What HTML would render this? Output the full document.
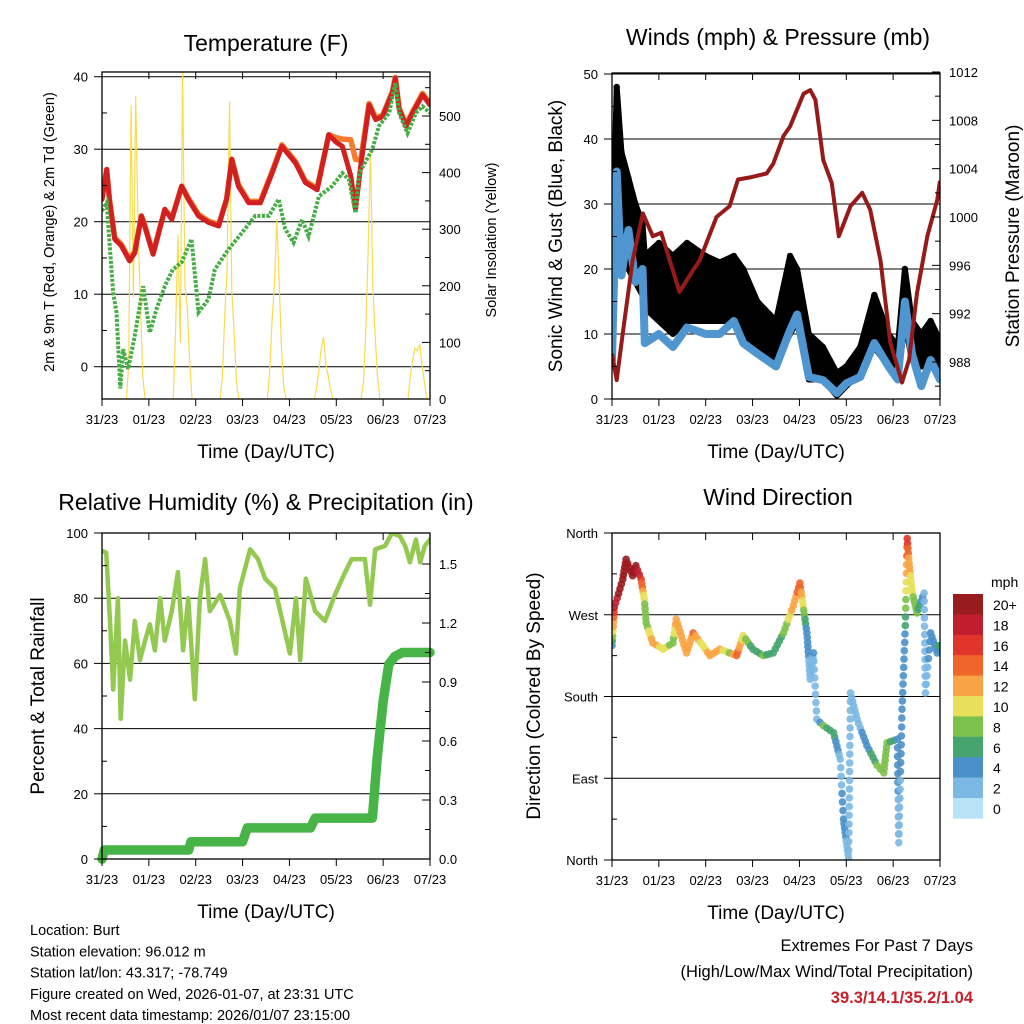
<!DOCTYPE html>
<html><head><meta charset="utf-8"><title>Burt Station Meteogram</title>
<style>
body{margin:0;background:#fff;}
svg{display:block;font-family:"Liberation Sans",Arial,sans-serif;}
</style></head>
<body>
<svg id="chart" width="1024" height="1024" viewBox="0 0 1024 1024" xmlns="http://www.w3.org/2000/svg">
<rect x="0" y="0" width="1024" height="1024" fill="#fff"/>
</svg>
<script>
// ---------- shared time axis ----------
const dayTicks = ["31/23","01/23","02/23","03/23","04/23","05/23","06/23","07/23"];

// ---------- Temperature panel data ----------
const tDays = [0,0.1,0.16,0.27,0.41,0.59,0.7,0.84,0.91,1.09,1.34,1.49,1.7,1.84,2.06,2.27,2.49,2.66,2.77,2.91,3.13,3.38,3.63,3.84,4.13,4.34,4.59,4.84,4.99,5.13,5.31,5.41,5.52,5.7,5.84,5.99,6.2,6.26,6.34,6.49,6.63,6.84,7.0];
const temp2m = [23.1,27.2,23,17.6,16.7,14.6,15.7,20.8,19.4,15.5,21.7,20.3,24.9,23.1,20.8,19.9,19.4,23.1,28.6,24.9,22.6,22.6,26.7,30.4,28.1,25.4,24.4,32.0,31.0,30.4,26.3,21.7,27.7,36.1,34.1,34.5,37.8,39.8,35.5,33.2,35,37.5,36.1];
const temp9m = [23.1,27.2,23,17.8,16.9,14.8,15.9,20.8,19.6,15.6,21.7,20.5,24.9,23.3,21,20.1,19.6,23.1,28.6,25.1,22.8,22.8,26.9,30.6,28.3,25.6,24.6,32.0,31.6,31.4,31.3,28.6,28.5,36.3,34.3,34.7,38.0,39.9,35.7,33.4,35.2,37.7,36.3];
const tdDays = [0,0.1,0.16,0.24,0.31,0.39,0.45,0.56,0.7,0.88,1.02,1.16,1.34,1.51,1.7,1.91,2.06,2.27,2.41,2.7,2.99,3.27,3.56,3.77,3.91,4.09,4.27,4.41,4.63,4.91,5.13,5.27,5.41,5.49,5.77,5.91,6.13,6.26,6.34,6.52,6.7,6.84,7.0];
const dewpoint = [21.5,22.6,17.1,10.2,7.5,-3,2.4,-0.3,4.3,11.1,4.7,7.9,11.1,13.4,14.4,17.6,7.5,9.3,13.4,16.2,18.5,20.8,20.8,23.1,19,17.1,20.3,18,23.5,24.9,26.7,25.8,21.2,26.7,30,33.2,35,39.1,35,32.2,35,35.9,35];
const solarCenters = [0.72,1.72,2.72,3.73,4.73,5.73,6.73];
const solarValues = [
 [0,60,520,180,535,300,170,40,0],
 [0,120,290,100,580,200,160,70,0],
 [0,40,150,230,526,190,120,30,0],
 [0,50,140,200,318,210,90,20,0],
 [0,20,50,90,109,60,40,15,0],
 [0,30,120,260,441,200,110,40,0],
 [0,40,70,90,85,97,60,30,0]
];
const tempTicks = [0,10,20,30,40];
const solarTicks = [0,100,200,300,400,500];

// ---------- Winds panel data ----------
const pDays = [0,0.1,0.23,0.44,0.66,0.87,1.05,1.44,1.73,1.87,2.23,2.51,2.69,2.98,3.3,3.44,3.66,3.8,4.09,4.23,4.34,4.51,4.69,4.84,5.09,5.34,5.51,5.73,5.94,6.19,6.34,6.51,6.73,6.94,7.0];
const pressure = [988.7,986.5,990.4,996.4,1000.3,998.4,998.7,993.8,995.6,996.4,1000,1000.9,1003.1,1003.3,1003.6,1004.4,1006.7,1007.5,1010.2,1010.5,1009.7,1004.7,1002.8,998.4,1000.9,1002,1000.6,996.4,989.6,986.3,988.2,993.7,998.4,1001.4,1003];
const wDays = [0,0.1,0.2,0.35,0.5,0.65,0.7,1.0,1.3,1.6,2.0,2.3,2.6,2.8,3.1,3.5,3.8,3.95,4.2,4.5,4.8,5.0,5.3,5.6,5.9,6.1,6.25,6.4,6.6,6.8,7.0];
const windSpeed = [6,35,19,26,18,20,8.6,10,8,11,10,10,12,8.6,7,5,10.6,13,3.4,2.9,0.9,2.4,3.4,8.6,5,3,15,7,2,6,3];
const gustHigh = [18,48,38,34,30,27,22,24,22,24,22,21,22,20,15,12,22,20,10,8,4,5,8,16,10,8,20,12,10,12,9];
const gustLow = [8,25,22,20,18,16,14,12,10,12,12,12,12,10,8,6,10,12,3,3,0.5,2,4,8,5,3,12,6,5,5,4];
const windTicks = [0,10,20,30,40,50];
const pressTicks = [988,992,996,1000,1004,1008,1012];

// ---------- RH / precip panel data ----------
const rhDays = [0,0.09,0.17,0.24,0.34,0.4,0.49,0.6,0.7,0.81,0.92,1.02,1.13,1.24,1.34,1.49,1.62,1.73,1.84,1.98,2.09,2.2,2.3,2.52,2.73,2.86,2.94,3.16,3.33,3.48,3.69,3.9,4.01,4.14,4.23,4.35,4.55,4.76,4.97,5.19,5.33,5.61,5.72,5.83,6.04,6.19,6.36,6.47,6.57,6.7,6.79,6.89,7.0];
const rhValues = [94.5,94,73,52,80,43,67,55,73,61,67,72,64,80,67,76,88,64,80,49,80,92,76,81,73,63,83,95,92,86,83,70,63,80,61,86,76,73,81,88,92,92,78,95,96,100,99,96,91,98,91,96,98];
const prDays = [0,0.05,1.85,1.9,3.0,3.1,4.45,4.55,5.77,5.87,6.0,6.12,6.25,6.41,7.0];
const precip = [0,0.046,0.046,0.088,0.088,0.158,0.158,0.208,0.208,0.51,0.8,0.99,1.03,1.05,1.05];
const rhTicks = [0,20,40,60,80,100];
const prTicks = ["0.0","0.3","0.6","0.9","1.2","1.5"];

// ---------- Wind direction panel data ----------
const dirDays = [0,0.05,0.23,0.3,0.44,0.51,0.62,0.69,0.73,0.87,1.09,1.3,1.37,1.59,1.73,1.94,2.09,2.3,2.51,2.66,2.8,3.01,3.23,3.44,3.66,3.87,4.01,4.16,4.23,4.3,4.37,4.51,4.73,4.87,4.94,5.05,5.09,5.23,5.44,5.66,5.8,5.87,6.09,6.12,6.19,6.26,6.3,6.34,6.41,6.51,6.66,6.69,6.8,6.94,6.98];
const dirDeg = [236,278,309,331,313,324,309,287,261,239,232,239,265,228,250,236,225,232,228,225,247,232,225,228,250,280,305,250,199,228,155,148,140,111,45,1,184,155,126,104,96,129,133,19,166,258,354,327,294,272,294,184,250,228,236];
const dirSpeed = [4,18,20,20,20,19,16,9,8,12,10,7,12,11,13,9,12,11,8,14,9,6,7,6,7,12,14,4,2,3,2,7,6,2,4,2,2,2,4,7,8,8,4,2,4,5,16,12,9,8,2,2,4,4,5];
const dirTicks = ["North","East","South","West","North"];
const speedLabels = ["20+","18","16","14","12","10","8","6","4","2","0"];
const speedColors = ["#981b1e","#be1e2d","#e0352a","#f06529","#f9a444","#e8e05a","#7cc14c","#46a46e","#4a90c8","#7cb8e4","#b8e2f6"];

// ---------- helpers ----------
const NS = "http://www.w3.org/2000/svg";
const svg = document.getElementById("chart");
function mk(tag, attrs, parent){
  const e = document.createElementNS(NS, tag);
  for (const k in attrs) e.setAttribute(k, attrs[k]);
  (parent||svg).appendChild(e);
  return e;
}
function txt(s, x, y, size, anchor, parent, extra){
  const t = mk("text", Object.assign({x:x, y:y, "font-size":size, "text-anchor":anchor||"start", fill:"#000"}, extra||{}), parent);
  t.textContent = s;
  return t;
}
function linear(d0,d1,r0,r1){ return v => r0 + (v-d0)/(d1-d0)*(r1-r0); }
function pathFrom(xs, ys, fx, fy){
  let d = "";
  for (let i=0;i<xs.length;i++) d += (i?"L":"M") + fx(xs[i]).toFixed(1) + "," + fy(ys[i]).toFixed(1);
  return d;
}

function panelFrame(P, name){
  const g = mk("g", {});
  
  
  const clip = mk("clipPath", {id: name+"-clip"}, g);
  mk("rect", {x:P.x0, y:P.y0, width:P.x1-P.x0, height:P.y1-P.y0}, clip);
  return g;
}
function xAxis(P, g){
  const fx = linear(0,7,P.x0,P.x1);
  const ax = mk("g", {}, g);
  
  
  dayTicks.forEach((lab,i)=>{
    const x = fx(i);
    mk("line",{x1:x,y1:P.y1,x2:x,y2:P.y1+7,stroke:"#000","stroke-width":1},ax);
    mk("line",{x1:x,y1:P.y0,x2:x,y2:P.y0+7,stroke:"#000","stroke-width":1},ax);
    const t = txt(lab, x, P.y1+25, 13, "middle", ax);
    
    
  });
  const tt = txt("Time (Day/UTC)", (P.x0+P.x1)/2, P.y1+59, 19, "middle", ax);
  
  
  return fx;
}
function border(P, g){
  const b = mk("rect",{x:P.x0,y:P.y0,width:P.x1-P.x0,height:P.y1-P.y0,fill:"none",stroke:"#000","stroke-width":1.3},g);
  
  
}
function yAxisLeft(P, g, ticks, fy, labels, minor, grid){
  const ax = mk("g", {}, g);
  
  
  ticks.forEach((v,i)=>{
    const y = fy(v);
    mk("line",{x1:P.x0-8,y1:y,x2:P.x0,y2:y,stroke:"#000","stroke-width":1},ax);
    const t = txt(labels?labels[i]:String(v), P.x0-14, y+5, 13, "end", ax);
    
    
  });
  (minor||[]).forEach(v=>{ const y=fy(v); mk("line",{x1:P.x0,y1:y,x2:P.x0+5,y2:y,stroke:"#000","stroke-width":1},ax); });
}
function yAxisRight(P, g, ticks, fy, labels, minor){
  const ax = mk("g", {}, g);
  
  
  ticks.forEach((v,i)=>{
    const y = fy(v);
    mk("line",{x1:P.x1-8,y1:y,x2:P.x1,y2:y,stroke:"#000","stroke-width":1},ax);
    const t = txt(labels?labels[i]:String(v), P.x1+9, y+5, 13, "start", ax);
    
    
  });
  (minor||[]).forEach(v=>{ const y=fy(v); mk("line",{x1:P.x1-5,y1:y,x2:P.x1,y2:y,stroke:"#000","stroke-width":1},ax); });
}
function vTitle(s, x, y, size, name, g){
  const t = txt(s, x, y, size, "middle", g, {transform:"rotate(-90 "+x+" "+y+")"});
  
  
}
function title(s, x, y, name){
  const t = txt(s, x, y, 23, "middle");
  
  
}

// ================= Panel 1: Temperature =================
(function(){
  const P = {x0:102, x1:430, y0:72, y1:399};
  const g = panelFrame(P, "temperature-panel");
  const fy = linear(0,40,366.7,76.7);
  const fs = linear(0,500,399,116);
  const fx = linear(0,7,P.x0,P.x1);
  tempTicks.forEach(v=>mk("line",{x1:P.x0,y1:fy(v),x2:P.x1,y2:fy(v),stroke:"#000","stroke-width":1},g));
  const plot = mk("g",{"clip-path":"url(#temperature-panel-clip)"},g);
  solarCenters.forEach((c,di)=>{
    const vals = solarValues[di];
    const xs = vals.map((v,k)=>c-0.2+k*0.05);
    const p = mk("path",{d:pathFrom(xs, vals, fx, fs), fill:"none", stroke:"#f8dc50","stroke-width":1.2},plot);
    
    
  });
  const o = mk("path",{d:pathFrom(tDays,temp9m,fx,fy),fill:"none",stroke:"#f47c2c","stroke-width":5.5,"stroke-linejoin":"round","stroke-linecap":"round"},plot);
  
  
  const r = mk("path",{d:pathFrom(tDays,temp2m,fx,fy),fill:"none",stroke:"#d22020","stroke-width":5,"stroke-linejoin":"round","stroke-linecap":"round"},plot);
  
  
  const gd = mk("path",{d:pathFrom(tdDays,dewpoint,fx,fy),fill:"none",stroke:"#46ad46","stroke-width":4,"stroke-dasharray":"3 1.5"},plot);
  
  
  border(P,g);
  yAxisLeft(P,g,tempTicks,fy,null,[5,15,25,35]);
  yAxisRight(P,g,solarTicks,fs,null,[50,150,250,350,450,550]);
  xAxis(P,g);
  vTitle("2m & 9m T (Red, Orange) & 2m Td (Green)", 54, 232, 14.5, "y-axis-title-left", g);
  vTitle("Solar Insolation (Yellow)", 496, 240, 14.5, "y-axis-title-right", g);
  title("Temperature (F)", 266, 51, "temperature-title");
})();

// ================= Panel 2: Winds & Pressure =================
(function(){
  const P = {x0:612, x1:940, y0:73, y1:399};
  const g = panelFrame(P, "winds-panel");
  const fy = linear(0,50,399,74);
  const fp = linear(988,1012,362,72);
  const fx = linear(0,7,P.x0,P.x1);
  windTicks.forEach(v=>mk("line",{x1:P.x0,y1:fy(v),x2:P.x1,y2:fy(v),stroke:"#000","stroke-width":1},g));
  const plot = mk("g",{"clip-path":"url(#winds-panel-clip)"},g);
  let d = pathFrom(wDays,gustHigh,fx,fy);
  for (let i=wDays.length-1;i>=0;i--) d += "L"+fx(wDays[i]).toFixed(1)+","+fy(gustLow[i]).toFixed(1);
  const band = mk("path",{d:d+"Z",fill:"#000",stroke:"#000","stroke-width":6,"stroke-linejoin":"round"},plot);
  
  
  wDays.forEach((t,i)=>{
    const c = mk("circle",{cx:fx(t),cy:fy(gustHigh[i]),r:3.2,fill:"#000"},plot);
    
    
  });
  const w = mk("path",{d:pathFrom(wDays,windSpeed,fx,fy),fill:"none",stroke:"#4f96d0","stroke-width":8,"stroke-linejoin":"round","stroke-linecap":"round"},plot);
  
  
  const p = mk("path",{d:pathFrom(pDays,pressure,fx,fp),fill:"none",stroke:"#971a1a","stroke-width":4,"stroke-linejoin":"round"},plot);
  
  
  border(P,g);
  yAxisLeft(P,g,windTicks,fy,null,[5,15,25,35,45]);
  yAxisRight(P,g,pressTicks,fp,null,[986,990,994,998,1002,1006,1010]);
  xAxis(P,g);
  vTitle("Sonic Wind & Gust (Blue, Black)", 562, 236, 19, "y-axis-title-left", g);
  vTitle("Station Pressure (Maroon)", 1019, 236, 19, "y-axis-title-right", g);
  title("Winds (mph) & Pressure (mb)", 778, 45, "winds-title");
})();

// ================= Panel 3: RH & Precip =================
(function(){
  const P = {x0:102, x1:430, y0:533, y1:859};
  const g = panelFrame(P, "humidity-panel");
  const fy = linear(0,100,859,533);
  const fr = linear(0,1.5,859,564);
  const fx = linear(0,7,P.x0,P.x1);
  rhTicks.forEach(v=>mk("line",{x1:P.x0,y1:fy(v),x2:P.x1,y2:fy(v),stroke:"#000","stroke-width":1},g));
  const plot = mk("g",{"clip-path":"url(#humidity-panel-clip)"},g);
  const rh = mk("path",{d:pathFrom(rhDays,rhValues,fx,fy),fill:"none",stroke:"#93c950","stroke-width":4.5,"stroke-linejoin":"round","stroke-linecap":"round"},plot);
  
  
  const pr = mk("path",{d:pathFrom(prDays,precip,fx,fr),fill:"none",stroke:"#46b446","stroke-width":9.5,"stroke-linejoin":"round","stroke-linecap":"round"},g);
  
  
  border(P,g);
  yAxisLeft(P,g,rhTicks,fy,null,[10,30,50,70,90]);
  yAxisRight(P,g,prTicks.map(Number),fr,prTicks,[0.15,0.45,0.75,1.05,1.35]);
  xAxis(P,g);
  vTitle("Percent & Total Rainfall", 44, 696, 19, "y-axis-title-left", g);
  title("Relative Humidity (%) & Precipitation (in)", 266, 510, "humidity-title");
})();

// ================= Panel 4: Wind Direction =================
(function(){
  const P = {x0:612, x1:940, y0:533, y1:860};
  const g = panelFrame(P, "direction-panel");
  const fy = linear(0,360,860,533);
  const fx = linear(0,7,P.x0,P.x1);
  const tickVals = [0,90,180,270,360];
  tickVals.forEach(v=>mk("line",{x1:P.x0,y1:fy(v),x2:P.x1,y2:fy(v),stroke:"#000","stroke-width":1},g));
  const plot = mk("g",{"clip-path":"url(#direction-panel-clip)"},g);
  function colorFor(s){ let idx = Math.round(s/2); if (idx>10) idx=10; if(idx<0) idx=0; return speedColors[10-idx]; }
  for (let i=0;i<dirDays.length;i++){
    const x0 = fx(dirDays[i]), y0 = fy(dirDeg[i]);
    const last = i===dirDays.length-1;
    const jump = !last && Math.abs(dirDeg[i+1]-dirDeg[i])>60;
    if (!last){
      const x1 = fx(dirDays[i+1]), y1 = fy(dirDeg[i+1]);
      const step = jump ? 9 : 5;
      const n = Math.max(1, Math.ceil(Math.hypot(x1-x0,y1-y0)/step));
      for (let k=0;k<n;k++){
        const f = k/n;
        const s = dirSpeed[i]+(dirSpeed[i+1]-dirSpeed[i])*f;
        const c = mk("circle",{cx:(x0+(x1-x0)*f).toFixed(1),cy:(y0+(y1-y0)*f).toFixed(1),r:3.8,fill:colorFor(s),opacity:0.9},plot);
        
        
      }
    } else {
      const c = mk("circle",{cx:x0,cy:y0,r:3.8,fill:colorFor(dirSpeed[i])},plot);
      
      
    }
  }
  border(P,g);
  yAxisLeft(P,g,tickVals,fy,dirTicks,[45,135,225,315]);
  xAxis(P,g);
  vTitle("Direction (Colored By Speed)", 540, 696, 19, "y-axis-title-left", g);
  title("Wind Direction", 778, 505, "direction-title");
  const cb = mk("g",{},g);
  
  
  const bh = 20.4;
  speedColors.forEach((c,i)=>{
    mk("rect",{x:953,y:594+i*bh,width:30,height:bh+0.3,fill:c},cb);
    const t = txt(speedLabels[i], 993, 594+i*bh+16, 14, "start", cb);
    
    
  });
  const u = txt("mph", 991, 587, 14, "start", cb);
  
  
})();

// ================= Footer text =================
const info = ["Location: Burt","Station elevation: 96.012 m","Station lat/lon: 43.317; -78.749","Figure created on Wed, 2026-01-07, at 23:31 UTC","Most recent data timestamp: 2026/01/07 23:15:00"];
info.forEach((s,i)=>{
  const t = txt(s, 30, 935+i*21.3, 14.5, "start");
  
  
});
const e1 = txt("Extremes For Past 7 Days", 973, 951, 16.5, "end");


const e2 = txt("(High/Low/Max Wind/Total Precipitation)", 973, 977, 16.5, "end");


const e3 = txt("39.3/14.1/35.2/1.04", 973, 1003, 16.5, "end", null, {fill:"#c8202a","font-weight":"bold"});


</script>
</body></html>
